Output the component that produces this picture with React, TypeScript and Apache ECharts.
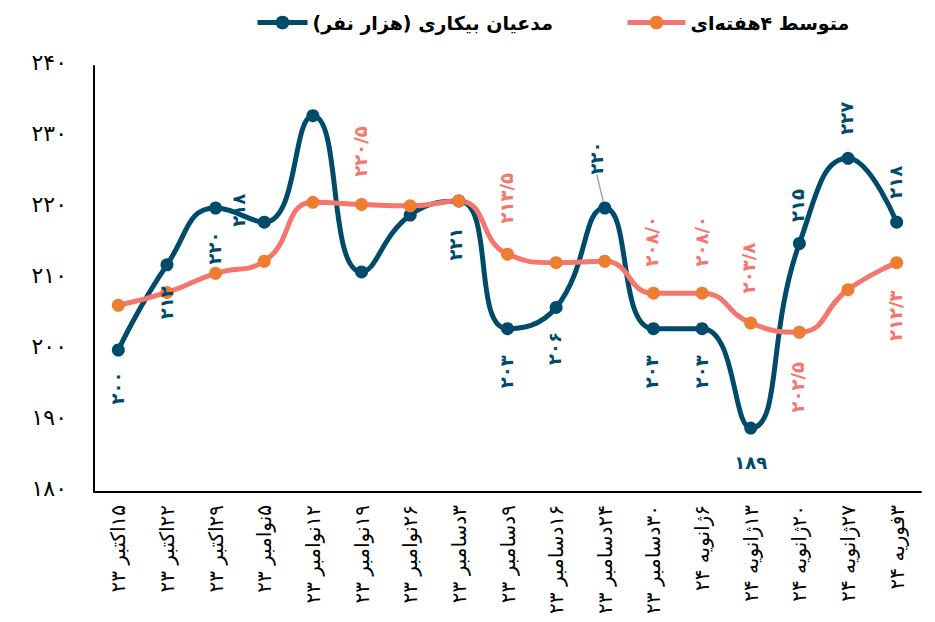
import React, { useEffect, useRef } from 'react';
import * as echarts from 'echarts';

// ---- data ----
const categories = [
  '۱۵اکتبر ۲۳', '۲۲اکتبر ۲۳', '۲۹اکتبر ۲۳', '۵نوامبر ۲۳', '۱۲نوامبر ۲۳', '۱۹نوامبر ۲۳',
  '۲۶نوامبر ۲۳', '۳دسامبر ۲۳', '۹دسامبر ۲۳', '۱۶دسامبر ۲۳', '۲۴دسامبر ۲۳', '۳۰دسامبر ۲۳',
  '۶ژانویه ۲۴', '۱۳ژانویه ۲۴', '۲۰ژانویه ۲۴', '۲۷ژانویه ۲۴', '۳فوریه ۲۴',
];
const claims = [200, 212, 220, 218, 233, 211, 219, 221, 203, 206, 220, 203, 203, 189, 215, 227, 218];
const avg4 = [206.3, 208.1, 210.8, 212.5, 220.8, 220.5, 220.3, 221.0, 213.5, 212.3, 212.5, 208.0, 208.0, 203.8, 202.5, 208.5, 212.3];
const claimsName = 'مدعیان بیکاری (هزار نفر)';
const avgName = 'متوسط ۴هفته‌ای';
const yMin = 180;
const yMax = 240;
const yStep = 10;

// label placement (offset of label centre from its point, in px); null = no label
type Place = { dx: number; dy: number; rot: number; leader?: boolean } | null;
const claimPlaces: Place[] = [
  { dx: -1, dy: 38, rot: 90 }, { dx: 0, dy: 38, rot: 90 }, { dx: -1, dy: 40, rot: 90 }, { dx: -26, dy: -12, rot: 90 },
  null, null, null,
  { dx: -3, dy: 43, rot: 90 }, { dx: -1, dy: 43, rot: 90 }, { dx: -2, dy: 41, rot: 90 },
  { dx: -8, dy: -50, rot: 90, leader: true },
  { dx: -2, dy: 43, rot: 90 }, { dx: -1, dy: 43, rot: 90 }, { dx: 0, dy: 34, rot: 0 },
  { dx: -2, dy: -38, rot: 90 }, { dx: -2, dy: -40, rot: 90 }, { dx: -1, dy: -40, rot: 90 },
];
const avgPlaces: Place[] = [
  null, null, null, null, null,
  { dx: -1, dy: -53, rot: 90 }, null, null,
  { dx: -1, dy: -56, rot: 90 }, null, null,
  { dx: -2, dy: -52, rot: 90 }, { dx: -1, dy: -52, rot: 90 }, { dx: -2, dy: -55, rot: 90 },
  { dx: -2, dy: 55, rot: 90 }, null, { dx: -1, dy: 53, rot: 90 },
];

const DARK = '#004b6b';
const PINK = '#f4766e';
const ORANGE = '#ed7d31';
const FONT = '"DejaVu Sans", sans-serif';

const fa = (s: string) => s.replace(/\d/g, (d) => '۰۱۲۳۴۵۶۷۸۹'[+d]);
const RLM = '\u200F';

function labelFor(place: Place, color: string, fmt: (v: number) => string) {
  if (!place) return { show: false };
  return {
    show: true, position: 'inside', color, fontFamily: FONT, fontWeight: 'bold', fontSize: 18,
    formatter: (p: any) => fmt(p.value),
  };
}

export default function App() {
  const ref = useRef<HTMLDivElement>(null);
  useEffect(() => {
    const chart = echarts.init(ref.current!, null, { renderer: 'svg' });
    const fmtInt = (v: number) => fa(String(Math.round(v)));
    const fmtDec = (v: number) => fa(v.toFixed(1).replace('.', '/'));
    const claimData = claims.map((v, i) => {
      const pl = claimPlaces[i];
      const item: any = { value: v, label: labelFor(pl, DARK, fmtInt) };
      if (pl && pl.leader) item.labelLine = { show: true, lineStyle: { color: '#a6a6a6', width: 1.5 } };
      return item;
    });
    const avgData = avg4.map((v, i) => ({ value: v, label: labelFor(avgPlaces[i], PINK, fmtDec) }));
    const legendText = { fontFamily: FONT, fontWeight: 'bold', fontSize: 19, color: '#000' };
    const legendCommon = {
      top: 8, itemHeight: 17, textStyle: legendText,
      lineStyle: { width: 5 },
      formatter: (n: string) => RLM + n + RLM,
    };
    chart.setOption({
      animation: false,
      backgroundColor: '#fff',
      legend: [
        { ...legendCommon, data: [claimsName], left: 250, itemWidth: 50 },
        { ...legendCommon, data: [avgName], left: 620, itemWidth: 58 },
      ],
      grid: { left: 94, right: 14, top: 66, bottom: 130, containLabel: false },
      xAxis: {
        type: 'category',
        data: categories,
        axisLine: { lineStyle: { color: '#000', width: 2 } },
        axisTick: { show: false },
        axisLabel: {
          rotate: 90, margin: 13, interval: 0, fontFamily: FONT, fontSize: 20, color: '#000',
          formatter: (v: string) => RLM + v + RLM,
        },
      },
      yAxis: {
        type: 'value', min: yMin, max: yMax, interval: yStep,
        axisLine: { show: true, lineStyle: { color: '#000', width: 2 } },
        axisTick: { show: false },
        splitLine: { show: false },
        axisLabel: {
          margin: 27, fontFamily: FONT, fontSize: 22, color: '#000',
          verticalAlign: 'bottom', lineHeight: 8,
          formatter: (v: number) => fa(String(v)),
        },
      },
      labelLayout: (p: any) => {
        const places = p.seriesIndex === 0 ? claimPlaces : avgPlaces;
        const pl = places[p.dataIndex];
        if (!pl || !p.rect) return {};
        const cx = p.rect.x + p.rect.width / 2;
        const cy = p.rect.y + p.rect.height / 2;
        const res: any = {
          x: cx + pl.dx, y: cy + pl.dy, rotate: pl.rot, align: 'center', verticalAlign: 'middle',
        };
        if (pl.leader) {
          res.labelLinePoints = [[cx - 4, cy - 25], [cx - 2, cy - 15], [cx - 1, cy - 6]];
        }
        return res;
      },
      series: [
        {
          name: claimsName, type: 'line', data: claimData, smooth: 0.5,
          symbol: 'circle', symbolSize: 13,
          lineStyle: { color: DARK, width: 5 },
          itemStyle: { color: DARK },
        },
        {
          name: avgName, type: 'line', data: avgData, smooth: 0.5,
          symbol: 'circle', symbolSize: 13,
          lineStyle: { color: PINK, width: 5 },
          itemStyle: { color: ORANGE },
        },
      ],
    });
    return () => chart.dispose();
  }, []);
  return (
    <div
      ref={ref}
      style={{ position: 'fixed', left: 0, top: 0, width: 935, height: 622, background: '#fff' }}
    />
  );
}
